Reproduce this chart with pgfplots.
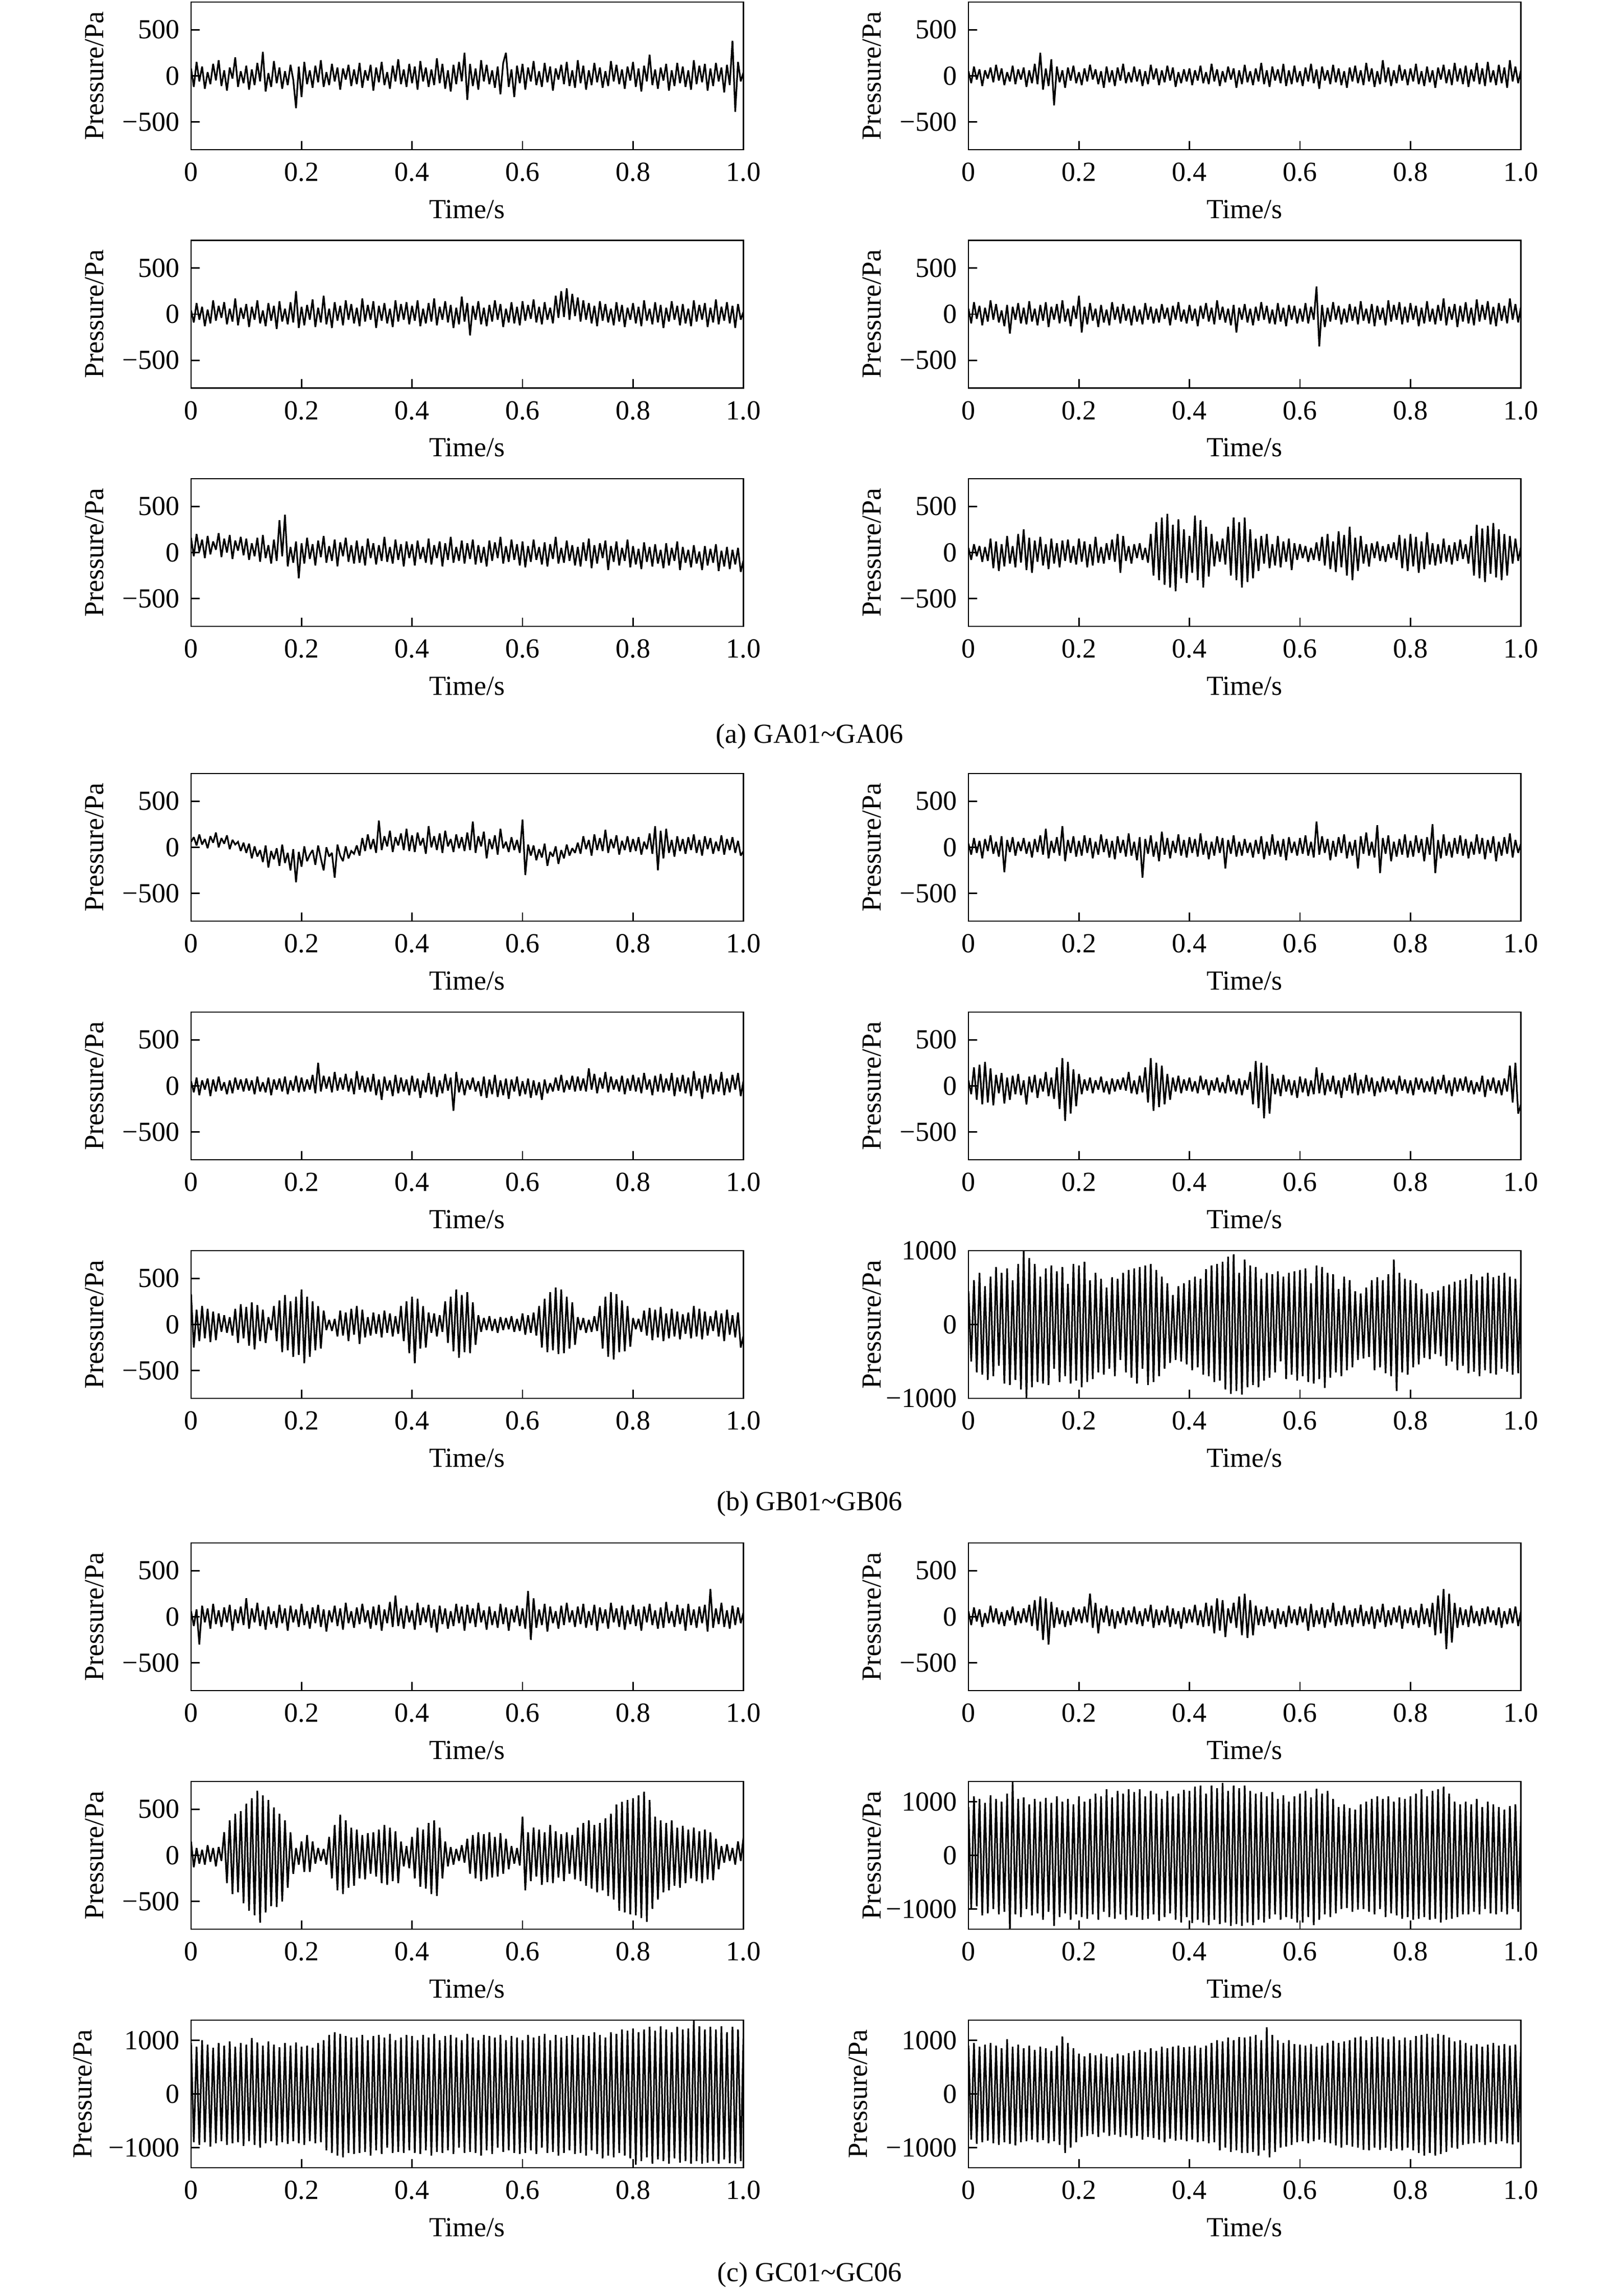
\documentclass[border=0pt]{standalone}
\usepackage{fontspec}
\setmainfont{Liberation Serif}
\usepackage{pgfplots}
\usepackage{pgfplotstable}
\pgfplotsset{compat=1.18}
\pgfplotstableset{tbl/.style={row sep=\\,header=false,x expr=\coordindex*0.005,y index=0}}
\pgfplotsset{
 panel/.style={
  scale only axis, width=200.3pt, height=53.5pt, anchor=north west,
  xmin=0, xmax=1, ymin=-800, ymax=800,
  xtick={0,0.2,0.4,0.6,0.8,1}, xticklabels={0,0.2,0.4,0.6,0.8,1.0},
  ytick={-500,0,500}, yticklabels={−500,0,500},
  tick align=inside, xtick pos=left, ytick pos=left,
  major tick length=3.2pt,
  axis line style={line width=0.5pt},
  every tick/.style={black,line width=0.5pt},
  xticklabel style={yshift=-1.3pt}, yticklabel style={xshift=-0.7pt},
  xlabel={Time/s}, ylabel={Pressure/Pa},
  xlabel style={at={(axis description cs:0.5,0)}, anchor=center, yshift=-21.6pt},
  ylabel style={at={(axis description cs:-0.1747,0.5)}, anchor=center},
 },
 big/.style={ymin=-1375,ymax=1375,ytick={-1000,0,1000},yticklabels={−1000,0,1000}},
 sig/.style={black, line width=0.6pt, mark=none, line join=miter, miter limit=2},
}
\begin{document}
\begin{tikzpicture}
\path[use as bounding box] (0,0) rectangle (583.33pt,-832.22pt);
% ---------- (a) ----------
\begin{axis}[panel, at={(69.26pt,-0.74pt)}]
\addplot[sig] table[tbl] {
80\\ -120\\ 150\\ -60\\ 100\\ -140\\ 40\\ -90\\ 130\\ -50\\ 170\\ -110\\ 60\\ -160\\ 90\\ -30\\ 200\\ -120\\ 50\\ -80\\
110\\ -150\\ 70\\ -100\\ 140\\ -60\\ 260\\ -170\\ 30\\ -120\\ 160\\ -80\\ 90\\ -140\\ 50\\ -100\\ 120\\ -40\\ -350\\ 100\\
-230\\ 150\\ -90\\ 60\\ -130\\ 110\\ -70\\ 170\\ -120\\ 40\\ -100\\ 130\\ -60\\ 90\\ -150\\ 80\\ -40\\ 120\\ -110\\ 70\\
-90\\ 140\\ -130\\ 60\\ -50\\ 120\\ -160\\ 90\\ -70\\ 150\\ -100\\ 40\\ -140\\ 110\\ -60\\ 180\\ -90\\ 70\\ -120\\ 130\\
-80\\ 100\\ -150\\ 160\\ -60\\ 90\\ -120\\ 70\\ -100\\ 190\\ -80\\ 130\\ -140\\ 60\\ -170\\ 120\\ -90\\ 150\\ -60\\ 250\\
-260\\ 130\\ -110\\ 80\\ -150\\ 170\\ -60\\ 120\\ -90\\ 60\\ -130\\ 100\\ -200\\ 140\\ 250\\ -120\\ 70\\ -230\\ 110\\ -80\\
130\\ -150\\ 90\\ -60\\ 160\\ -100\\ 50\\ -120\\ 140\\ -70\\ 100\\ -160\\ 80\\ -40\\ 120\\ -90\\ 150\\ -110\\ 60\\ -130\\
170\\ -80\\ 110\\ -150\\ 60\\ -100\\ 140\\ -70\\ 90\\ -130\\ 50\\ -110\\ 160\\ -60\\ 120\\ -90\\ 70\\ -140\\ 100\\ -50\\
150\\ -120\\ 80\\ -170\\ 110\\ -60\\ 230\\ -100\\ 70\\ -140\\ 90\\ -50\\ 130\\ -160\\ 60\\ -110\\ 140\\ -80\\ 100\\ -120\\
60\\ -150\\ 170\\ -90\\ 110\\ -70\\ 130\\ -160\\ 80\\ -110\\ 140\\ -60\\ 90\\ -180\\ 120\\ -100\\ 380\\ -390\\ 150\\ -60\\
40\\
};
\end{axis}
\begin{axis}[panel, at={(351.1pt,-0.74pt)}]
\addplot[sig] table[tbl] {
50\\ -80\\ 100\\ -40\\ 70\\ -110\\ 60\\ -30\\ 90\\ -70\\ 120\\ -50\\ 80\\ -100\\ 40\\ -60\\ 110\\ -90\\ 70\\ -40\\
90\\ -120\\ 60\\ -80\\ 130\\ -90\\ 250\\ -150\\ 80\\ -110\\ 180\\ -320\\ 100\\ -70\\ 60\\ -130\\ 90\\ -50\\ 110\\ -80\\
40\\ -100\\ 80\\ -60\\ 120\\ -40\\ 70\\ -90\\ 50\\ -130\\ 100\\ -70\\ 60\\ -110\\ 90\\ -50\\ 130\\ -80\\ 40\\ -70\\
100\\ -60\\ 70\\ -110\\ 50\\ -90\\ 120\\ -40\\ 80\\ -100\\ 60\\ -70\\ 110\\ -50\\ 90\\ -120\\ 40\\ -80\\ 70\\ -60\\
80\\ -100\\ 60\\ -50\\ 110\\ -80\\ 40\\ -90\\ 130\\ -60\\ 70\\ -110\\ 50\\ -70\\ 100\\ -40\\ 80\\ -130\\ 60\\ -90\\
120\\ -70\\ 50\\ -100\\ 80\\ -60\\ 140\\ -90\\ 60\\ -120\\ 100\\ -50\\ 70\\ -80\\ 130\\ -110\\ 60\\ -90\\ 110\\ -70\\
50\\ -110\\ 90\\ -60\\ 130\\ -80\\ 70\\ -140\\ 100\\ -50\\ 60\\ -90\\ 120\\ -70\\ 80\\ -100\\ 50\\ -130\\ 90\\ -60\\
110\\ -80\\ 60\\ -100\\ 140\\ -60\\ 80\\ -120\\ 50\\ -90\\ 170\\ -70\\ 90\\ -110\\ 60\\ -80\\ 120\\ -50\\ 70\\ -100\\
80\\ -60\\ 130\\ -90\\ 50\\ -110\\ 100\\ -70\\ 60\\ -130\\ 90\\ -40\\ 120\\ -80\\ 70\\ -100\\ 140\\ -60\\ 80\\ -90\\
110\\ -120\\ 70\\ -60\\ 140\\ -90\\ 80\\ -110\\ 150\\ -70\\ 60\\ -100\\ 120\\ -80\\ 90\\ -130\\ 170\\ -60\\ 100\\ -80\\
60\\
};
\end{axis}
\begin{axis}[panel, at={(69.26pt,-87.13pt)}]
\addplot[sig] table[tbl] {
40\\ -90\\ 120\\ -60\\ 80\\ -130\\ 50\\ -100\\ 150\\ -70\\ 90\\ -40\\ 130\\ -110\\ 60\\ -80\\ 170\\ -120\\ 70\\ -50\\
110\\ -140\\ 80\\ -60\\ 150\\ -100\\ 40\\ -130\\ 120\\ -70\\ 90\\ -160\\ 140\\ -80\\ 60\\ -110\\ 130\\ -90\\ 250\\ -150\\
80\\ -120\\ 100\\ -60\\ 160\\ -140\\ 70\\ -90\\ 200\\ -110\\ 60\\ -150\\ 130\\ -70\\ 90\\ -120\\ 150\\ -60\\ 110\\ -100\\
70\\ -130\\ 170\\ -80\\ 100\\ -60\\ 140\\ -150\\ 90\\ -70\\ 120\\ -100\\ 60\\ -140\\ 150\\ -80\\ 110\\ -60\\ 130\\ -110\\
90\\ -70\\ 150\\ -130\\ 60\\ -100\\ 120\\ -80\\ 170\\ -120\\ 80\\ -60\\ 140\\ -90\\ 100\\ -150\\ 70\\ -110\\ 190\\ -80\\
120\\ -230\\ 90\\ -60\\ 140\\ -110\\ 70\\ -130\\ 100\\ -80\\ 150\\ -60\\ 110\\ -140\\ 60\\ -90\\ 130\\ -100\\ 80\\ -120\\
140\\ -70\\ 100\\ -50\\ 160\\ -90\\ 80\\ -110\\ 130\\ -60\\ 70\\ -100\\ 200\\ -40\\ 250\\ -30\\ 280\\ -60\\ 220\\ -20\\
180\\ -80\\ 150\\ -60\\ 120\\ -100\\ 90\\ -130\\ 140\\ -70\\ 110\\ -90\\ 60\\ -120\\ 130\\ -80\\ 100\\ -140\\ 70\\ -60\\
120\\ -100\\ 80\\ -130\\ 150\\ -70\\ 60\\ -110\\ 130\\ -90\\ 100\\ -150\\ 70\\ -80\\ 140\\ -60\\ 90\\ -120\\ 110\\ -100\\
60\\ -130\\ 150\\ -80\\ 100\\ -60\\ 120\\ -140\\ 70\\ -90\\ 160\\ -110\\ 80\\ -70\\ 130\\ -100\\ 90\\ -150\\ 110\\ -60\\
30\\
};
\end{axis}
\begin{axis}[panel, at={(351.1pt,-87.13pt)}]
\addplot[sig] table[tbl] {
60\\ -100\\ 130\\ -50\\ 90\\ -120\\ 70\\ -80\\ 150\\ -60\\ 110\\ -90\\ 40\\ -130\\ 100\\ -210\\ 80\\ -60\\ 120\\ -100\\
70\\ -110\\ 140\\ -80\\ 60\\ -120\\ 100\\ -70\\ 130\\ -140\\ 80\\ -60\\ 110\\ -100\\ 150\\ -80\\ 60\\ -130\\ 90\\ -50\\
200\\ -200\\ 80\\ -110\\ 120\\ -70\\ 60\\ -140\\ 100\\ -90\\ 50\\ -120\\ 130\\ -60\\ 80\\ -100\\ 110\\ -70\\ 60\\ -120\\
90\\ -80\\ 50\\ -110\\ 120\\ -60\\ 80\\ -100\\ 60\\ -90\\ 110\\ -50\\ 70\\ -120\\ 90\\ -60\\ 130\\ -80\\ 50\\ -100\\
100\\ -70\\ 60\\ -130\\ 90\\ -50\\ 120\\ -80\\ 70\\ -110\\ 150\\ -60\\ 80\\ -90\\ 60\\ -120\\ 100\\ -200\\ 70\\ -60\\
110\\ -90\\ 60\\ -120\\ 80\\ -70\\ 130\\ -60\\ 90\\ -100\\ 50\\ -110\\ 120\\ -80\\ 70\\ -130\\ 100\\ -60\\ 90\\ -100\\
60\\ -80\\ 120\\ -100\\ 80\\ -60\\ 300\\ -350\\ 100\\ -140\\ 70\\ -80\\ 130\\ -60\\ 90\\ -110\\ 60\\ -90\\ 110\\ -70\\
80\\ -110\\ 140\\ -70\\ 60\\ -100\\ 110\\ -130\\ 90\\ -60\\ 70\\ -120\\ 150\\ -80\\ 100\\ -60\\ 130\\ -110\\ 80\\ -90\\
120\\ -60\\ 90\\ -130\\ 70\\ -100\\ 140\\ -80\\ 60\\ -110\\ 100\\ -70\\ 170\\ -120\\ 80\\ -60\\ 110\\ -140\\ 90\\ -80\\
130\\ -100\\ 70\\ -120\\ 160\\ -80\\ 100\\ -60\\ 140\\ -110\\ 80\\ -130\\ 120\\ -70\\ 90\\ -100\\ 170\\ -60\\ 110\\ -90\\
80\\
};
\end{axis}
\begin{axis}[panel, at={(69.26pt,-173.52pt)}]
\addplot[sig] table[tbl] {
160\\ -40\\ 200\\ 10\\ 140\\ -60\\ 180\\ -20\\ 120\\ 30\\ 210\\ -50\\ 150\\ 0\\ 190\\ -70\\ 130\\ 20\\ 170\\ -30\\
150\\ -80\\ 100\\ -40\\ 160\\ -100\\ 190\\ -60\\ 80\\ -120\\ 140\\ -90\\ 350\\ -40\\ 410\\ -150\\ 60\\ -110\\ 120\\ -280\\
100\\ -120\\ 160\\ -70\\ 90\\ -140\\ 130\\ -50\\ 180\\ -110\\ 70\\ -90\\ 140\\ -150\\ 110\\ -40\\ 160\\ -100\\ 80\\ -120\\
130\\ -110\\ 70\\ -140\\ 150\\ -60\\ 100\\ -130\\ 80\\ -90\\ 170\\ -100\\ 60\\ -120\\ 140\\ -80\\ 90\\ -150\\ 120\\ -60\\
90\\ -140\\ 130\\ -70\\ 60\\ -110\\ 150\\ -130\\ 80\\ -60\\ 120\\ -150\\ 100\\ -80\\ 170\\ -110\\ 60\\ -90\\ 130\\ -120\\
100\\ -70\\ 140\\ -130\\ 80\\ -110\\ 60\\ -150\\ 130\\ -90\\ 110\\ -60\\ 170\\ -120\\ 70\\ -100\\ 140\\ -80\\ 90\\ -140\\
120\\ -160\\ 70\\ -100\\ 140\\ -80\\ 60\\ -130\\ 110\\ -150\\ 90\\ -70\\ 170\\ -120\\ 50\\ -110\\ 130\\ -90\\ 80\\ -140\\
60\\ -150\\ 110\\ -90\\ 150\\ -170\\ 80\\ -120\\ 100\\ -60\\ 130\\ -190\\ 70\\ -100\\ 120\\ -140\\ 50\\ -90\\ 140\\ -160\\
70\\ -130\\ 40\\ -180\\ 110\\ -100\\ 60\\ -150\\ 90\\ -120\\ 30\\ -170\\ 100\\ -140\\ 50\\ -90\\ 120\\ -190\\ 60\\ -110\\
30\\ -160\\ 80\\ -120\\ 10\\ -190\\ 70\\ -140\\ 40\\ -110\\ 90\\ -200\\ 20\\ -150\\ 60\\ -180\\ 30\\ -130\\ 50\\ -210\\
-80\\
};
\end{axis}
\begin{axis}[panel, at={(351.1pt,-173.52pt)}]
\addplot[sig] table[tbl] {
50\\ -80\\ 90\\ -40\\ 70\\ -100\\ 60\\ -90\\ 150\\ -170\\ 120\\ -200\\ 90\\ -150\\ 180\\ -120\\ 70\\ -160\\ 200\\ -110\\
250\\ -190\\ 160\\ -220\\ 130\\ -100\\ 170\\ -140\\ 90\\ -180\\ 150\\ -120\\ 100\\ -160\\ 130\\ -90\\ 140\\ -110\\ 70\\ -130\\
150\\ -100\\ 120\\ -160\\ 90\\ -140\\ 170\\ -110\\ 60\\ -120\\ 100\\ -80\\ 140\\ -100\\ 200\\ -220\\ 180\\ -90\\ 70\\ -120\\
90\\ -60\\ 100\\ -80\\ 50\\ -110\\ 200\\ -250\\ 330\\ -300\\ 380\\ -350\\ 420\\ -380\\ 300\\ -420\\ 360\\ -280\\ 250\\ -330\\
180\\ -220\\ 400\\ -300\\ 350\\ -380\\ 280\\ -260\\ 200\\ -150\\ 120\\ -100\\ 150\\ -130\\ 280\\ -250\\ 380\\ -300\\ 330\\ -380\\
380\\ -320\\ 250\\ -280\\ 150\\ -200\\ 180\\ -120\\ 200\\ -170\\ 90\\ -140\\ 180\\ -160\\ 120\\ -100\\ 150\\ -190\\ 100\\ -80\\
90\\ -60\\ 70\\ -100\\ 50\\ -80\\ 110\\ -90\\ 170\\ -140\\ 200\\ -180\\ 120\\ -210\\ 230\\ -160\\ 190\\ -250\\ 280\\ -300\\
160\\ -200\\ 180\\ -120\\ 90\\ -150\\ 100\\ -60\\ 120\\ -90\\ 70\\ -100\\ 90\\ -60\\ 110\\ -80\\ 190\\ -170\\ 150\\ -200\\
200\\ -150\\ 170\\ -220\\ 120\\ -180\\ 220\\ -130\\ 100\\ -140\\ 90\\ -120\\ 150\\ -100\\ 80\\ -130\\ 110\\ -90\\ 140\\ -70\\
90\\ -120\\ 180\\ -250\\ 300\\ -280\\ 260\\ -320\\ 290\\ -230\\ 320\\ -270\\ 250\\ -300\\ 200\\ -250\\ 180\\ -120\\ 150\\ -90\\
60\\
};
\end{axis}
\node[anchor=base] at (293.5pt,-269.4pt) {(a) GA01\textasciitilde GA06};
% ---------- (b) ----------
\begin{axis}[panel, at={(69.26pt,-280.37pt)}]
\addplot[sig] table[tbl] {
60\\ 110\\ 20\\ 140\\ 30\\ 90\\ -10\\ 120\\ 50\\ 160\\ 0\\ 100\\ 40\\ 130\\ -20\\ 80\\ 30\\ 60\\ -40\\ 50\\
-60\\ 40\\ -120\\ 10\\ -100\\ -30\\ -160\\ 20\\ -220\\ -40\\ -130\\ -10\\ -200\\ 30\\ -170\\ -60\\ -250\\ -20\\ -380\\ -50\\
-210\\ 10\\ -150\\ -80\\ -30\\ -190\\ 20\\ -120\\ -250\\ 0\\ -100\\ -60\\ -330\\ 30\\ -90\\ -150\\ 10\\ -120\\ -40\\ -70\\
20\\ -90\\ 100\\ -40\\ 140\\ -20\\ 90\\ -60\\ 290\\ -30\\ 120\\ 10\\ 180\\ -50\\ 110\\ 20\\ 150\\ -30\\ 200\\ -40\\
130\\ -50\\ 160\\ 20\\ 100\\ -70\\ 230\\ 0\\ 120\\ -30\\ 150\\ -60\\ 180\\ 10\\ 90\\ -50\\ 140\\ -10\\ 110\\ -40\\
160\\ -30\\ 280\\ -60\\ 120\\ 10\\ 170\\ -120\\ 90\\ -20\\ 130\\ -80\\ 200\\ -10\\ 60\\ -50\\ 110\\ -30\\ 80\\ -60\\
300\\ -300\\ 30\\ -90\\ 20\\ -140\\ -20\\ -110\\ 40\\ -200\\ -50\\ -100\\ 10\\ -180\\ -30\\ -120\\ 30\\ -90\\ -10\\ -60\\
50\\ -70\\ 120\\ -20\\ 80\\ -90\\ 140\\ -30\\ 100\\ -40\\ 190\\ -60\\ 90\\ -10\\ 130\\ -80\\ 70\\ -30\\ 120\\ -50\\
90\\ -40\\ 110\\ -80\\ 60\\ -20\\ 150\\ -70\\ 230\\ -250\\ 180\\ -120\\ 200\\ -60\\ 80\\ -100\\ 120\\ -40\\ 90\\ -70\\
110\\ -30\\ 140\\ -60\\ 80\\ -90\\ 120\\ -20\\ 100\\ -70\\ 60\\ -40\\ 130\\ -80\\ 90\\ -30\\ 110\\ -60\\ 70\\ -90\\
-40\\
};
\end{axis}
\begin{axis}[panel, at={(351.1pt,-280.37pt)}]
\addplot[sig] table[tbl] {
40\\ -80\\ 100\\ -60\\ 70\\ -120\\ 90\\ -40\\ 130\\ -70\\ 60\\ -100\\ 120\\ -270\\ 80\\ -50\\ 110\\ -90\\ 60\\ -40\\
100\\ -70\\ 60\\ -110\\ 90\\ -50\\ 130\\ -80\\ 200\\ -120\\ 70\\ -60\\ 110\\ -90\\ 230\\ -150\\ 80\\ -60\\ 120\\ -100\\
70\\ -90\\ 130\\ -60\\ 100\\ -120\\ 60\\ -80\\ 140\\ -50\\ 90\\ -110\\ 70\\ -130\\ 120\\ -60\\ 80\\ -100\\ 150\\ -90\\
60\\ -140\\ 110\\ -330\\ 90\\ -70\\ 130\\ -100\\ 60\\ -150\\ 170\\ -80\\ 100\\ -120\\ 70\\ -60\\ 140\\ -90\\ 80\\ -110\\
110\\ -60\\ 90\\ -100\\ 150\\ -80\\ 70\\ -130\\ 60\\ -90\\ 120\\ -60\\ 100\\ -230\\ 80\\ -70\\ 130\\ -100\\ 60\\ -90\\
90\\ -60\\ 50\\ -110\\ 80\\ -70\\ 120\\ -130\\ 60\\ -90\\ 140\\ -80\\ 70\\ -100\\ 90\\ -140\\ 110\\ -60\\ 60\\ -90\\
100\\ -70\\ 130\\ -90\\ 60\\ -110\\ 280\\ -80\\ 120\\ -60\\ 90\\ -140\\ 70\\ -100\\ 110\\ -60\\ 140\\ -120\\ 60\\ -90\\
80\\ -230\\ 120\\ -70\\ 160\\ -90\\ 60\\ -110\\ 240\\ -280\\ 100\\ -70\\ 130\\ -150\\ 60\\ -100\\ 90\\ -80\\ 140\\ -110\\
70\\ -100\\ 130\\ -60\\ 90\\ -150\\ 110\\ -80\\ 250\\ -280\\ 80\\ -120\\ 140\\ -90\\ 60\\ -110\\ 100\\ -70\\ 130\\ -90\\
90\\ -120\\ 60\\ -80\\ 140\\ -70\\ 100\\ -130\\ 80\\ -60\\ 120\\ -150\\ 60\\ -90\\ 110\\ -70\\ 150\\ -110\\ 80\\ -60\\
40\\
};
\end{axis}
\begin{axis}[panel, at={(69.26pt,-366.85pt)}]
\addplot[sig] table[tbl] {
50\\ -70\\ 90\\ -100\\ 60\\ -40\\ 80\\ -110\\ 70\\ -60\\ 100\\ -50\\ 40\\ -90\\ 60\\ -80\\ 90\\ -40\\ 70\\ -60\\
80\\ -50\\ 60\\ -90\\ 100\\ -60\\ 40\\ -70\\ 90\\ -100\\ 70\\ -40\\ 80\\ -60\\ 100\\ -90\\ 60\\ -50\\ 110\\ -70\\
90\\ -60\\ 70\\ -40\\ 120\\ -80\\ 250\\ -60\\ 110\\ -30\\ 100\\ -70\\ 150\\ -50\\ 90\\ -40\\ 130\\ -60\\ 80\\ -90\\
160\\ -40\\ 110\\ -70\\ 90\\ -60\\ 130\\ -100\\ 70\\ -150\\ 100\\ -50\\ 60\\ -110\\ 120\\ -80\\ 90\\ -60\\ 70\\ -100\\
110\\ -60\\ 80\\ -130\\ 60\\ -70\\ 140\\ -90\\ 100\\ -120\\ 60\\ -80\\ 130\\ -50\\ 90\\ -270\\ 150\\ -70\\ 80\\ -100\\
60\\ -40\\ 90\\ -60\\ 50\\ -110\\ 100\\ -130\\ 70\\ -90\\ 120\\ -120\\ 60\\ -100\\ 80\\ -140\\ 70\\ -60\\ 100\\ -110\\
50\\ -90\\ 80\\ -130\\ 60\\ -100\\ 40\\ -150\\ 70\\ -80\\ 30\\ -60\\ 90\\ -50\\ 120\\ -70\\ 60\\ -40\\ 110\\ -60\\
100\\ -50\\ 80\\ -60\\ 190\\ -40\\ 130\\ -80\\ 90\\ -30\\ 150\\ -70\\ 100\\ -40\\ 70\\ -60\\ 110\\ -90\\ 80\\ -50\\
120\\ -60\\ 90\\ -80\\ 140\\ -40\\ 70\\ -100\\ 110\\ -60\\ 130\\ -70\\ 80\\ -50\\ 140\\ -110\\ 90\\ -60\\ 120\\ -80\\
90\\ -110\\ 160\\ -50\\ 80\\ -140\\ 110\\ -70\\ 130\\ -90\\ 70\\ -60\\ 150\\ -100\\ 80\\ -70\\ 120\\ -40\\ 140\\ -110\\
60\\
};
\end{axis}
\begin{axis}[panel, at={(351.1pt,-366.85pt)}]
\addplot[sig] table[tbl] {
60\\ -90\\ 200\\ -150\\ 230\\ -200\\ 260\\ -180\\ 190\\ -210\\ 120\\ -80\\ 140\\ -190\\ 90\\ -150\\ 110\\ -90\\ 130\\ -100\\
60\\ -200\\ 100\\ -70\\ 120\\ -130\\ 80\\ -60\\ 150\\ -110\\ 90\\ -140\\ 200\\ -250\\ 300\\ -380\\ 260\\ -300\\ 180\\ -220\\
130\\ -90\\ 70\\ -50\\ 90\\ -80\\ 60\\ -40\\ 100\\ -70\\ 50\\ -90\\ 80\\ -60\\ 70\\ -40\\ 90\\ -50\\ 150\\ -80\\
60\\ -90\\ 110\\ -70\\ 200\\ -180\\ 300\\ -270\\ 250\\ -230\\ 220\\ -200\\ 130\\ -150\\ 90\\ -60\\ 110\\ -80\\ 70\\ -50\\
90\\ -60\\ 50\\ -80\\ 110\\ -40\\ 70\\ -100\\ 60\\ -50\\ 90\\ -70\\ 40\\ -80\\ 120\\ -60\\ 60\\ -90\\ 80\\ -100\\
60\\ -40\\ 150\\ -200\\ 270\\ -240\\ 250\\ -350\\ 220\\ -300\\ 130\\ -90\\ 80\\ -110\\ 120\\ -60\\ 70\\ -100\\ 60\\ -130\\
100\\ -70\\ 80\\ -110\\ 60\\ -90\\ 200\\ -80\\ 140\\ -100\\ 70\\ -60\\ 110\\ -90\\ 60\\ -130\\ 90\\ -50\\ 120\\ -80\\
140\\ -100\\ 70\\ -80\\ 120\\ -60\\ 90\\ -110\\ 50\\ -70\\ 100\\ -60\\ 80\\ -40\\ 60\\ -90\\ 110\\ -50\\ 70\\ -80\\
60\\ -100\\ 90\\ -40\\ 80\\ -70\\ 50\\ -60\\ 100\\ -90\\ 70\\ -40\\ 120\\ -80\\ 60\\ -110\\ 90\\ -60\\ 80\\ -50\\
100\\ -70\\ 60\\ -90\\ 40\\ -60\\ 110\\ -120\\ 70\\ -50\\ 90\\ -80\\ 60\\ -100\\ 80\\ -60\\ 220\\ -180\\ 250\\ -300\\
-200\\
};
\end{axis}
\begin{axis}[panel, at={(69.26pt,-453.33pt)}]
\addplot[sig] table[tbl] {
330\\ -250\\ 160\\ -180\\ 200\\ -150\\ 170\\ -190\\ 140\\ -170\\ 120\\ -80\\ 100\\ -90\\ 80\\ -120\\ 170\\ -200\\ 220\\ -150\\
190\\ -230\\ 240\\ -270\\ 210\\ -180\\ 160\\ -200\\ 80\\ -60\\ 200\\ -180\\ 260\\ -300\\ 320\\ -280\\ 250\\ -350\\ 300\\ -330\\
380\\ -420\\ 300\\ -350\\ 250\\ -280\\ 200\\ -260\\ 150\\ -60\\ 50\\ -70\\ 60\\ -130\\ 150\\ -120\\ 130\\ -180\\ 170\\ -110\\
200\\ -210\\ 160\\ -140\\ 80\\ -120\\ 130\\ -100\\ 110\\ -140\\ 150\\ -90\\ 120\\ -130\\ 90\\ -100\\ 200\\ -180\\ 250\\ -310\\
300\\ -420\\ 280\\ -260\\ 200\\ -250\\ 130\\ -90\\ 120\\ -130\\ 100\\ -80\\ 250\\ -200\\ 300\\ -290\\ 380\\ -360\\ 320\\ -300\\
350\\ -310\\ 240\\ -220\\ 100\\ -80\\ 70\\ -60\\ 90\\ -70\\ 60\\ -90\\ 80\\ -60\\ 70\\ -50\\ 90\\ -80\\ 60\\ -70\\
120\\ -110\\ 100\\ -90\\ 130\\ -120\\ 200\\ -250\\ 280\\ -300\\ 350\\ -280\\ 400\\ -320\\ 380\\ -310\\ 300\\ -260\\ 240\\ -220\\
80\\ -60\\ 70\\ -90\\ 50\\ -80\\ 90\\ -70\\ 200\\ -260\\ 300\\ -350\\ 350\\ -380\\ 330\\ -300\\ 260\\ -290\\ 200\\ -240\\
70\\ -50\\ 60\\ -80\\ 150\\ -120\\ 180\\ -170\\ 160\\ -140\\ 190\\ -180\\ 120\\ -150\\ 170\\ -130\\ 140\\ -160\\ 110\\ -100\\
130\\ -150\\ 200\\ -130\\ 170\\ -160\\ 140\\ -120\\ 90\\ -70\\ 150\\ -130\\ 120\\ -180\\ 160\\ -110\\ 100\\ -140\\ 130\\ -250\\
-120\\
};
\end{axis}
\begin{axis}[panel, at={(351.1pt,-453.33pt)}, ymin=-1000, ymax=1000, ytick={-1000,0,1000}, yticklabels={−1000,0,1000}]
\addplot[sig] table[tbl] {
450\\ -500\\ 600\\ -650\\ 700\\ -680\\ 520\\ -750\\ 650\\ -700\\ 780\\ -560\\ 700\\ -800\\ 760\\ -820\\ 600\\ -750\\ 820\\ -880\\
1000\\ -1000\\ 900\\ -850\\ 820\\ -780\\ 650\\ -800\\ 760\\ -820\\ 800\\ -600\\ 720\\ -780\\ 780\\ -700\\ 550\\ -800\\ 820\\ -760\\
800\\ -850\\ 850\\ -780\\ 600\\ -740\\ 700\\ -650\\ 620\\ -680\\ 500\\ -600\\ 640\\ -700\\ 620\\ -480\\ 700\\ -650\\ 740\\ -720\\
760\\ -800\\ 780\\ -600\\ 800\\ -820\\ 820\\ -780\\ 740\\ -700\\ 650\\ -600\\ 560\\ -520\\ 400\\ -480\\ 520\\ -500\\ 560\\ -540\\
600\\ -620\\ 650\\ -580\\ 620\\ -680\\ 750\\ -700\\ 800\\ -780\\ 820\\ -760\\ 850\\ -880\\ 920\\ -940\\ 950\\ -900\\ 700\\ -950\\
880\\ -850\\ 800\\ -820\\ 780\\ -850\\ 620\\ -760\\ 700\\ -720\\ 680\\ -650\\ 720\\ -500\\ 650\\ -740\\ 700\\ -680\\ 720\\ -760\\
740\\ -700\\ 760\\ -780\\ 560\\ -800\\ 800\\ -740\\ 780\\ -860\\ 700\\ -720\\ 680\\ -650\\ 480\\ -700\\ 650\\ -620\\ 600\\ -580\\
450\\ -480\\ 420\\ -460\\ 500\\ -440\\ 600\\ -620\\ 640\\ -580\\ 600\\ -660\\ 680\\ -700\\ 880\\ -900\\ 700\\ -650\\ 620\\ -680\\
600\\ -580\\ 560\\ -540\\ 480\\ -450\\ 420\\ -470\\ 440\\ -400\\ 460\\ -430\\ 520\\ -560\\ 540\\ -500\\ 580\\ -620\\ 600\\ -560\\
620\\ -660\\ 680\\ -640\\ 600\\ -700\\ 650\\ -620\\ 700\\ -660\\ 640\\ -680\\ 660\\ -600\\ 700\\ -640\\ 650\\ -680\\ 620\\ -660\\
600\\
};
\end{axis}
\node[anchor=base] at (293.5pt,-547.4pt) {(b) GB01\textasciitilde GB06};
% ---------- (c) ----------
\begin{axis}[panel, at={(69.26pt,-559.26pt)}]
\addplot[sig] table[tbl] {
60\\ -100\\ 80\\ -300\\ 120\\ -60\\ 90\\ -130\\ 140\\ -80\\ 70\\ -110\\ 100\\ -60\\ 130\\ -150\\ 80\\ -70\\ 110\\ -90\\
200\\ -130\\ 90\\ -60\\ 150\\ -100\\ 70\\ -140\\ 110\\ -80\\ 60\\ -120\\ 130\\ -70\\ 90\\ -150\\ 120\\ -60\\ 80\\ -110\\
140\\ -90\\ 60\\ -130\\ 100\\ -70\\ 130\\ -110\\ 80\\ -160\\ 70\\ -60\\ 120\\ -100\\ 90\\ -140\\ 150\\ -70\\ 60\\ -120\\
100\\ -80\\ 140\\ -60\\ 70\\ -130\\ 110\\ -90\\ 130\\ -150\\ 80\\ -70\\ 160\\ -110\\ 230\\ -100\\ 90\\ -130\\ 120\\ -60\\
70\\ -140\\ 150\\ -90\\ 100\\ -60\\ 130\\ -120\\ 80\\ -170\\ 120\\ -80\\ 90\\ -130\\ 60\\ -100\\ 140\\ -70\\ 110\\ -150\\
130\\ -70\\ 90\\ -110\\ 150\\ -60\\ 70\\ -140\\ 110\\ -90\\ 60\\ -120\\ 140\\ -80\\ 100\\ -150\\ 80\\ -60\\ 120\\ -100\\
90\\ -130\\ 280\\ -250\\ 200\\ -120\\ 80\\ -90\\ 140\\ -160\\ 110\\ -70\\ 60\\ -130\\ 120\\ -90\\ 150\\ -60\\ 70\\ -110\\
110\\ -80\\ 140\\ -120\\ 60\\ -90\\ 130\\ -150\\ 100\\ -70\\ 80\\ -130\\ 150\\ -60\\ 90\\ -110\\ 120\\ -140\\ 70\\ -80\\
130\\ -100\\ 80\\ -150\\ 110\\ -60\\ 140\\ -90\\ 70\\ -130\\ 100\\ -120\\ 160\\ -70\\ 60\\ -110\\ 130\\ -80\\ 90\\ -150\\
140\\ -90\\ 80\\ -120\\ 110\\ -70\\ 130\\ -160\\ 300\\ -120\\ 90\\ -80\\ 150\\ -110\\ 70\\ -130\\ 120\\ -90\\ 100\\ -70\\
50\\
};
\end{axis}
\begin{axis}[panel, at={(351.1pt,-559.26pt)}]
\addplot[sig] table[tbl] {
60\\ -90\\ 100\\ -50\\ 80\\ -110\\ 40\\ -70\\ 120\\ -60\\ 90\\ -80\\ 50\\ -100\\ 70\\ -40\\ 110\\ -90\\ 60\\ -70\\
90\\ -60\\ 130\\ -100\\ 180\\ -150\\ 220\\ -250\\ 200\\ -300\\ 160\\ -120\\ 100\\ -80\\ 70\\ -110\\ 60\\ -90\\ 100\\ -50\\
80\\ -70\\ 110\\ -60\\ 250\\ -120\\ 150\\ -180\\ 90\\ -60\\ 120\\ -100\\ 80\\ -130\\ 60\\ -70\\ 100\\ -90\\ 70\\ -60\\
110\\ -80\\ 60\\ -100\\ 90\\ -50\\ 130\\ -120\\ 80\\ -90\\ 70\\ -60\\ 120\\ -110\\ 90\\ -80\\ 60\\ -130\\ 100\\ -70\\
80\\ -60\\ 130\\ -90\\ 70\\ -110\\ 150\\ -100\\ 120\\ -180\\ 200\\ -150\\ 180\\ -220\\ 90\\ -70\\ 150\\ -120\\ 220\\ -200\\
250\\ -230\\ 180\\ -200\\ 120\\ -90\\ 80\\ -100\\ 110\\ -60\\ 70\\ -130\\ 90\\ -80\\ 60\\ -110\\ 120\\ -70\\ 80\\ -90\\
110\\ -60\\ 90\\ -150\\ 140\\ -110\\ 70\\ -80\\ 100\\ -120\\ 80\\ -60\\ 150\\ -100\\ 60\\ -90\\ 120\\ -80\\ 70\\ -110\\
90\\ -70\\ 130\\ -100\\ 60\\ -80\\ 110\\ -130\\ 80\\ -60\\ 140\\ -110\\ 70\\ -90\\ 100\\ -60\\ 120\\ -130\\ 80\\ -70\\
100\\ -90\\ 70\\ -120\\ 140\\ -80\\ 90\\ -110\\ 150\\ -200\\ 230\\ -180\\ 300\\ -350\\ 250\\ -280\\ 150\\ -120\\ 100\\ -90\\
80\\ -110\\ 120\\ -70\\ 60\\ -100\\ 90\\ -80\\ 110\\ -60\\ 70\\ -90\\ 100\\ -120\\ 60\\ -80\\ 90\\ -70\\ 110\\ -100\\
60\\
};
\end{axis}
\begin{axis}[panel, at={(69.26pt,-645.74pt)}]
\addplot[sig] table[tbl] {
150\\ -130\\ 80\\ -90\\ 60\\ -100\\ 110\\ -70\\ 80\\ -120\\ 90\\ -60\\ 250\\ -300\\ 380\\ -420\\ 450\\ -400\\ 480\\ -520\\
560\\ -600\\ 620\\ -650\\ 700\\ -730\\ 650\\ -620\\ 600\\ -550\\ 520\\ -560\\ 450\\ -500\\ 380\\ -350\\ 250\\ -200\\ 80\\ -100\\
150\\ -180\\ 220\\ -180\\ 150\\ -90\\ 80\\ -60\\ 70\\ -100\\ 200\\ -250\\ 330\\ -380\\ 440\\ -420\\ 380\\ -350\\ 300\\ -330\\
280\\ -250\\ 220\\ -260\\ 240\\ -200\\ 250\\ -230\\ 280\\ -300\\ 330\\ -320\\ 300\\ -280\\ 260\\ -300\\ 150\\ -120\\ 100\\ -140\\
200\\ -250\\ 300\\ -340\\ 280\\ -360\\ 350\\ -420\\ 380\\ -440\\ 300\\ -250\\ 150\\ -120\\ 90\\ -100\\ 70\\ -60\\ 110\\ -80\\
180\\ -200\\ 220\\ -250\\ 250\\ -280\\ 230\\ -260\\ 250\\ -240\\ 200\\ -230\\ 240\\ -200\\ 180\\ -150\\ 100\\ -90\\ 80\\ -110\\
420\\ -380\\ 250\\ -280\\ 300\\ -230\\ 280\\ -320\\ 250\\ -290\\ 330\\ -300\\ 260\\ -240\\ 230\\ -280\\ 250\\ -200\\ 220\\ -260\\
300\\ -280\\ 350\\ -330\\ 380\\ -360\\ 330\\ -400\\ 350\\ -380\\ 400\\ -440\\ 450\\ -480\\ 550\\ -600\\ 580\\ -620\\ 600\\ -640\\
620\\ -650\\ 650\\ -680\\ 690\\ -720\\ 600\\ -580\\ 420\\ -480\\ 380\\ -400\\ 350\\ -380\\ 380\\ -330\\ 300\\ -350\\ 320\\ -300\\
280\\ -250\\ 300\\ -280\\ 260\\ -300\\ 280\\ -260\\ 250\\ -270\\ 180\\ -150\\ 100\\ -80\\ 120\\ -60\\ 80\\ -100\\ 150\\ -60\\
200\\
};
\end{axis}
\begin{axis}[panel, big, at={(351.1pt,-645.74pt)}]
\addplot[sig] table[tbl] {
900\\ -1000\\ 1100\\ -950\\ 1050\\ -1120\\ 980\\ -1080\\ 1120\\ -1000\\ 1050\\ -1100\\ 1000\\ -1050\\ 1150\\ -1375\\ 1375\\ -1100\\ 1050\\ -1150\\
1080\\ -1000\\ 950\\ -1120\\ 1050\\ -1080\\ 1000\\ -1200\\ 1070\\ -1050\\ 980\\ -1315\\ 1100\\ -1150\\ 1000\\ -1080\\ 1050\\ -1200\\ 950\\ -1100\\
1100\\ -1150\\ 1000\\ -1180\\ 1050\\ -1100\\ 1150\\ -1200\\ 1100\\ -1050\\ 1230\\ -1150\\ 1080\\ -1180\\ 1200\\ -1100\\ 1150\\ -1200\\ 1230\\ -1120\\
1180\\ -1150\\ 1230\\ -1200\\ 1100\\ -1180\\ 1200\\ -1100\\ 1150\\ -1220\\ 1050\\ -1150\\ 1200\\ -1080\\ 1100\\ -1200\\ 1150\\ -1250\\ 1220\\ -1150\\
1200\\ -1260\\ 1280\\ -1200\\ 1300\\ -1250\\ 1150\\ -1300\\ 1300\\ -1200\\ 1250\\ -1280\\ 1350\\ -1250\\ 1200\\ -1315\\ 1300\\ -1280\\ 1250\\ -1315\\
1300\\ -1250\\ 1200\\ -1300\\ 1150\\ -1200\\ 1180\\ -1250\\ 1100\\ -1180\\ 1180\\ -1100\\ 1050\\ -1200\\ 1120\\ -1150\\ 1000\\ -1180\\ 1100\\ -1250\\
1150\\ -1250\\ 1200\\ -1150\\ 1080\\ -1300\\ 1240\\ -1200\\ 1150\\ -1100\\ 1200\\ -1150\\ 1050\\ -1080\\ 900\\ -1000\\ 950\\ -980\\ 880\\ -1050\\
850\\ -1010\\ 950\\ -1000\\ 1000\\ -1050\\ 1050\\ -1100\\ 1100\\ -1000\\ 1050\\ -1150\\ 1100\\ -1080\\ 1000\\ -1120\\ 1080\\ -1180\\ 1050\\ -1150\\
1100\\ -1200\\ 1150\\ -1180\\ 1230\\ -1150\\ 1100\\ -1200\\ 1200\\ -1180\\ 1230\\ -1250\\ 1280\\ -1200\\ 1150\\ -1180\\ 1000\\ -1150\\ 950\\ -1100\\
1000\\ -1100\\ 950\\ -1050\\ 1050\\ -1100\\ 900\\ -1000\\ 1000\\ -1080\\ 950\\ -1100\\ 900\\ -1050\\ 850\\ -1100\\ 920\\ -1000\\ 950\\ -1050\\
700\\
};
\end{axis}
\begin{axis}[panel, big, at={(69.26pt,-732.22pt)}, ylabel style={at={(axis description cs:-0.196,0.5)}}]
\addplot[sig] table[tbl] {
950\\ -900\\ 880\\ -950\\ 1000\\ -900\\ 920\\ -980\\ 860\\ -920\\ 950\\ -880\\ 900\\ -950\\ 980\\ -920\\ 880\\ -900\\ 950\\ -970\\
920\\ -880\\ 1040\\ -950\\ 960\\ -1000\\ 900\\ -920\\ 980\\ -880\\ 920\\ -960\\ 870\\ -900\\ 950\\ -930\\ 900\\ -880\\ 960\\ -920\\
880\\ -950\\ 900\\ -880\\ 860\\ -920\\ 950\\ -900\\ 1000\\ -1050\\ 1100\\ -1100\\ 1150\\ -1150\\ 1120\\ -1180\\ 1080\\ -1100\\ 1050\\ -1120\\
1050\\ -1100\\ 1100\\ -1080\\ 1000\\ -1150\\ 1080\\ -1050\\ 1100\\ -1120\\ 1050\\ -1000\\ 1120\\ -1100\\ 1000\\ -1080\\ 1050\\ -1100\\ 1100\\ -1050\\
1080\\ -1100\\ 1000\\ -1120\\ 1100\\ -1050\\ 1050\\ -1150\\ 1120\\ -1080\\ 1000\\ -1100\\ 1080\\ -1050\\ 1100\\ -1120\\ 1050\\ -1000\\ 1000\\ -1100\\
1120\\ -1080\\ 1050\\ -1100\\ 1000\\ -1150\\ 1100\\ -1050\\ 1080\\ -1120\\ 1050\\ -1000\\ 1100\\ -1080\\ 1000\\ -1050\\ 1080\\ -1100\\ 1050\\ -1120\\
1000\\ -1100\\ 1100\\ -1050\\ 1050\\ -1120\\ 1080\\ -1000\\ 1120\\ -1100\\ 1000\\ -1080\\ 1100\\ -1150\\ 1050\\ -1100\\ 1080\\ -1050\\ 1100\\ -1120\\
1050\\ -1100\\ 1100\\ -1150\\ 1080\\ -1050\\ 1150\\ -1120\\ 1100\\ -1200\\ 1050\\ -1150\\ 1150\\ -1180\\ 1120\\ -1100\\ 1200\\ -1150\\ 1180\\ -1200\\
1220\\ -1320\\ 1150\\ -1250\\ 1200\\ -1180\\ 1250\\ -1300\\ 1180\\ -1220\\ 1260\\ -1250\\ 1200\\ -1300\\ 1150\\ -1200\\ 1250\\ -1280\\ 1200\\ -1250\\
1220\\ -1300\\ 1375\\ -1250\\ 1260\\ -1300\\ 1200\\ -1280\\ 1250\\ -1250\\ 1200\\ -1300\\ 1260\\ -1220\\ 1150\\ -1290\\ 1250\\ -1300\\ 1200\\ -1250\\
1150\\
};
\end{axis}
\begin{axis}[panel, big, at={(351.1pt,-732.22pt)}, ylabel style={at={(axis description cs:-0.2,0.5)}}]
\addplot[sig] table[tbl] {
900\\ -850\\ 950\\ -930\\ 880\\ -900\\ 920\\ -870\\ 950\\ -920\\ 900\\ -950\\ 850\\ -900\\ 1020\\ -930\\ 880\\ -960\\ 920\\ -900\\
850\\ -880\\ 900\\ -850\\ 820\\ -900\\ 880\\ -860\\ 850\\ -920\\ 800\\ -880\\ 900\\ -950\\ 1070\\ -1100\\ 950\\ -1000\\ 850\\ -900\\
750\\ -800\\ 700\\ -780\\ 760\\ -750\\ 720\\ -800\\ 750\\ -720\\ 700\\ -780\\ 680\\ -760\\ 750\\ -800\\ 720\\ -770\\ 760\\ -820\\
800\\ -780\\ 820\\ -850\\ 780\\ -800\\ 850\\ -820\\ 800\\ -850\\ 880\\ -900\\ 850\\ -830\\ 880\\ -870\\ 900\\ -850\\ 870\\ -880\\
880\\ -850\\ 900\\ -900\\ 860\\ -880\\ 900\\ -920\\ 950\\ -900\\ 1000\\ -1050\\ 980\\ -1000\\ 1050\\ -1080\\ 1000\\ -1050\\ 1060\\ -1100\\
1050\\ -1100\\ 1070\\ -1080\\ 1100\\ -1150\\ 1000\\ -1050\\ 1240\\ -1180\\ 1100\\ -1080\\ 1000\\ -1000\\ 950\\ -980\\ 1000\\ -950\\ 930\\ -900\\
920\\ -880\\ 900\\ -920\\ 930\\ -880\\ 880\\ -850\\ 900\\ -900\\ 950\\ -920\\ 990\\ -960\\ 950\\ -1000\\ 980\\ -950\\ 1000\\ -980\\
1050\\ -1000\\ 1070\\ -1040\\ 1000\\ -1050\\ 1060\\ -1000\\ 1070\\ -1040\\ 1050\\ -1000\\ 1020\\ -1060\\ 1070\\ -1020\\ 1000\\ -1050\\ 1050\\ -1000\\
1000\\ -1050\\ 1080\\ -1100\\ 1100\\ -1150\\ 1120\\ -1100\\ 1050\\ -1150\\ 1120\\ -1120\\ 1100\\ -1080\\ 1050\\ -1000\\ 980\\ -1020\\ 1000\\ -950\\
950\\ -930\\ 900\\ -920\\ 930\\ -900\\ 880\\ -950\\ 920\\ -900\\ 950\\ -930\\ 900\\ -880\\ 930\\ -920\\ 900\\ -940\\ 920\\ -900\\
850\\
};
\end{axis}
\node[anchor=base] at (293.5pt,-827.0pt) {(c) GC01\textasciitilde GC06};
\end{tikzpicture}
\end{document}
